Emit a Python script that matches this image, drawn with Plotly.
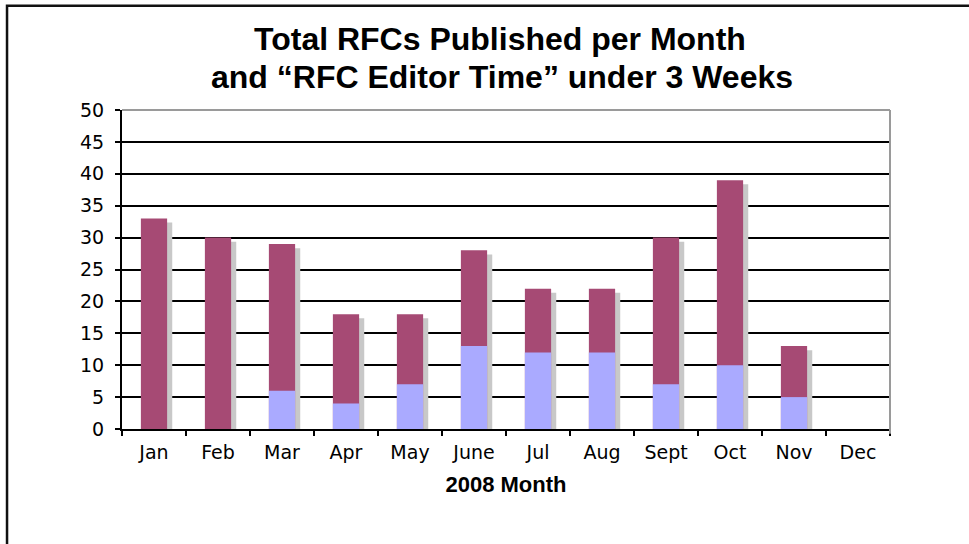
import plotly.graph_objects as go

# data
months = ['Jan', 'Feb', 'Mar', 'Apr', 'May', 'June', 'Jul', 'Aug', 'Sept', 'Oct', 'Nov', 'Dec']
total_rfcs = [33, 30, 29, 18, 18, 28, 22, 22, 30, 39, 13, 0]
under_3_weeks = [0, 0, 6, 4, 7, 13, 12, 12, 7, 10, 5, 0]

MAROON = '#A64A74'
BLUE = '#AAAAFF'
SHADOW = '#C8C8C8'
BAR_W = 0.41

fig = go.Figure()

# drop shadow behind each bar
fig.add_trace(go.Bar(
    x=months, y=total_rfcs, base=-0.65,
    width=BAR_W, offset=-BAR_W / 2 + 0.08,
    marker=dict(color=SHADOW, line=dict(width=0)),
    hoverinfo='skip', showlegend=False
))

# total published
fig.add_trace(go.Bar(
    x=months, y=total_rfcs, name='Total RFCs',
    width=BAR_W, offset=-BAR_W / 2,
    marker=dict(color=MAROON, line=dict(width=0)),
    showlegend=False
))

# RFC Editor time under 3 weeks
fig.add_trace(go.Bar(
    x=months, y=under_3_weeks, name='Under 3 weeks',
    width=BAR_W, offset=-BAR_W / 2,
    marker=dict(color=BLUE, line=dict(width=0)),
    showlegend=False
))

tick_font = dict(family='DejaVu Sans', size=19, color='black')
title_font = dict(family='Liberation Sans, Arial', size=32, color='black')

fig.update_layout(
    width=969, height=544,
    barmode='overlay',
    plot_bgcolor='white', paper_bgcolor='white',
    margin=dict(l=122, r=79, t=110, b=115),
    showlegend=False,
    annotations=[
        dict(text='<b>Total RFCs Published per Month</b>', xref='paper', yref='paper',
             x=0.492, y=1.222, xanchor='center', yanchor='middle',
             showarrow=False, font=title_font),
        dict(text='<b>and \u201cRFC Editor Time\u201d under 3 Weeks</b>', xref='paper', yref='paper',
             x=0.495, y=1.1033, xanchor='center', yanchor='middle',
             showarrow=False, font=title_font),
    ],
    shapes=[
        # outer frame of the slide
        dict(type='rect', xref='paper', yref='paper', x0=-0.1497, x1=1.2, y0=-0.6, y1=1.327,
             line=dict(color='#111111', width=2.5), layer='below'),
        # grey top and right border of plot area
        dict(type='line', xref='paper', yref='paper', x0=0, x1=1, y0=1, y1=1,
             line=dict(color='#9A9A9A', width=2)),
        dict(type='line', xref='paper', yref='paper', x0=1, x1=1, y0=-0.015, y1=1,
             line=dict(color='#9A9A9A', width=2)),
    ]
)

fig.update_xaxes(
    title=dict(text='<b>2008 Month</b>', font=dict(family='Liberation Sans, Arial', size=22, color='black'),
               standoff=15),
    tickfont=tick_font,
    showline=True, linecolor='black', linewidth=2,
    ticks='outside', tickson='boundaries', ticklen=5, tickwidth=2, tickcolor='black',
    showgrid=False, ticklabelstandoff=5
)
fig.update_yaxes(
    range=[0, 50], dtick=5,
    tickfont=tick_font,
    showline=True, linecolor='black', linewidth=2,
    ticks='outside', ticklen=5, tickwidth=2, tickcolor='black',
    showgrid=True, gridcolor='black', gridwidth=2,
    zeroline=False, ticklabelstandoff=7
)

# drop the default page margin so the figure sits at the window origin
fig.write_html('out.html', config={'displayModeBar': False},
               post_script="document.body.style.margin='0';")
